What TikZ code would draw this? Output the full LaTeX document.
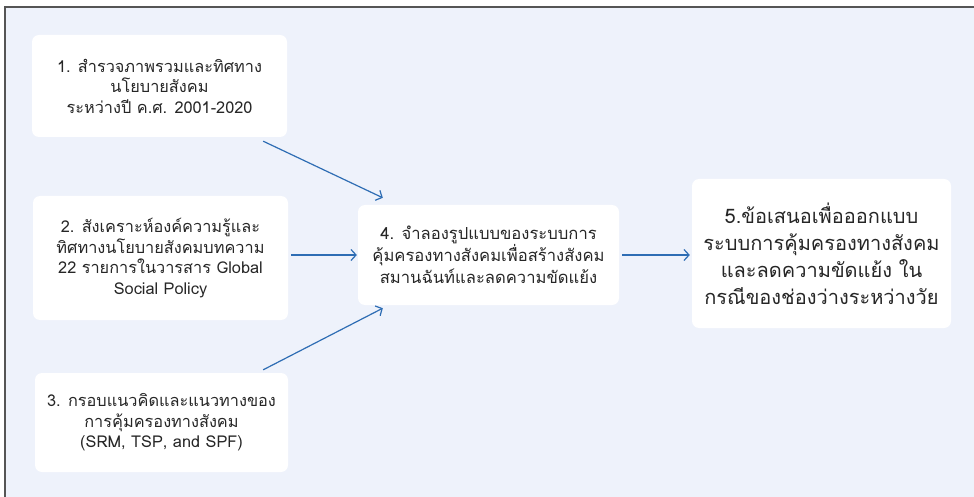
\documentclass[tikz,border=0pt]{standalone}
\usepackage{fontspec}
\usetikzlibrary{arrows.meta,calc}
\newfontfamily\thaifont[Script=Thai]{Loma}
\definecolor{bgblue}{HTML}{EEF2FB}
\definecolor{framegray}{HTML}{555555}
\definecolor{arrowblue}{HTML}{2E6DB4}
\definecolor{txtgray}{HTML}{262626}
\tikzset{
  box/.style={fill=white, rounded corners=7pt, align=center, inner sep=0pt,
    text=txtgray, font=\thaifont\fontsize{16.3}{20.5}\selectfont},
  link/.style={draw=arrowblue, line width=1.2pt,
    -{Straight Barb[length=5pt,width=11pt,line width=1.2pt]}},
}
\begin{document}
\begin{tikzpicture}[x=1pt,y=-1pt]
\useasboundingbox (0,0) rectangle (974,497);
\fill[white] (0,0) rectangle (974,497);
\fill[bgblue] (5,7) rectangle (974,497);
\draw[framegray, line width=2pt] (5,497) -- (5,7) -- (974,7);

\node[box, minimum width=255pt, minimum height=102pt] (b1) at (159.5,86)
  {1. สำรวจภาพรวมและทิศทาง\\นโยบายสังคม\\ระหว่างปี ค.ศ. 2001-2020};
\node[box, minimum width=255pt, minimum height=124pt] (b2) at (160.5,258)
  {2. สังเคราะห์องค์ความรู้และ\\ทิศทางนโยบายสังคมบทความ\\22 รายการในวารสาร Global\\Social Policy};
\node[box, minimum width=253pt, minimum height=99pt] (b3) at (161.5,422.5)
  {3. กรอบแนวคิดและแนวทางของ\\การคุ้มครองทางสังคม\\(SRM, TSP, and SPF)};
\node[box, minimum width=261pt, minimum height=100pt,
  font=\thaifont\fontsize{16.6}{22}\selectfont] (b4) at (488.5,255)
  {4. จำลองรูปแบบของระบบการ\\คุ้มครองทางสังคมเพื่อสร้างสังคม\\สมานฉันท์และลดความขัดแย้ง};
\node[box, minimum width=259pt, minimum height=149pt,
  font=\thaifont\fontsize{20}{27}\selectfont] (b5) at (821.5,253.5)
  {5.ข้อเสนอเพื่อออกแบบ\\ระบบการคุ้มครองทางสังคม\\และลดความขัดแย้ง ใน\\กรณีของช่องว่างระหว่างวัย};

\draw[link] ([xshift=-24pt,yshift=-4pt]b1.south east) -- ([xshift=25pt,yshift=7pt]b4.north west);
\draw[link] ([xshift=3pt]b2.east |- b4.west) -- ([xshift=-1pt]b4.west);
\draw[link] ([xshift=-25pt,yshift=3pt]b3.north east) -- ([xshift=25pt,yshift=-3pt]b4.south west);
\draw[link] ([xshift=3pt]b4.east) -- ([xshift=-2pt]b5.west |- b4.east);
\end{tikzpicture}
\end{document}
